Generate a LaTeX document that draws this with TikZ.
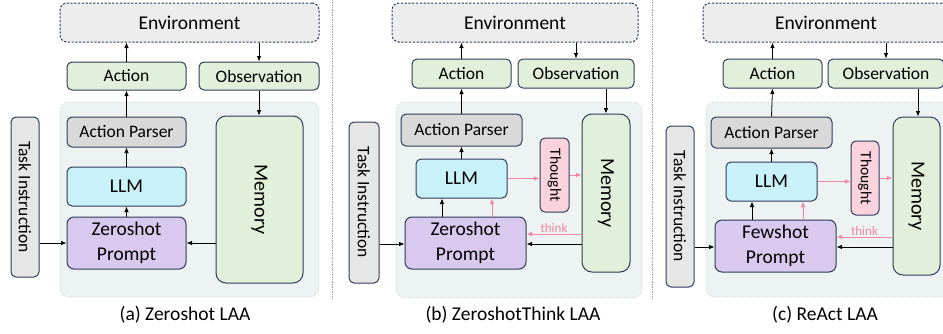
\documentclass[tikz,border=0pt]{standalone}
\usepackage{fontspec}
\setmainfont{Carlito}
\usetikzlibrary{arrows.meta}
\definecolor{navy}{HTML}{2E3D5A}
\definecolor{envfill}{HTML}{EDEDED}
\definecolor{grn}{HTML}{E2EFDA}
\definecolor{cyn}{HTML}{C9F1F9}
\definecolor{apg}{HTML}{D9D9D9}
\definecolor{prp}{HTML}{D9C9EE}
\definecolor{pnk}{HTML}{FAD3DC}
\definecolor{tskg}{HTML}{E6E6E6}
\definecolor{bgf}{HTML}{EDF2F2}
\definecolor{bgd}{HTML}{C4C8C8}
\definecolor{parr}{HTML}{F3879F}
\definecolor{sep}{HTML}{A0A0A0}
\tikzset{
  box/.style={draw=navy, line width=1pt, rounded corners=5pt, inner sep=0pt, align=center, text=black},
  envbox/.style={box, fill=envfill, dash pattern=on 2.2pt off 1.6pt, rounded corners=7pt, font=\fontsize{19.5}{20}\selectfont},
  grnbox/.style={box, fill=grn, font=\fontsize{17.5}{20}\selectfont},
  membox/.style={box, fill=grn, rotate=-90, rounded corners=10pt, font=\fontsize{20}{20}\selectfont},
  apbox/.style={box, fill=apg, font=\fontsize{17.5}{20}\selectfont},
  llmbox/.style={box, fill=cyn, font=\fontsize{19.5}{20}\selectfont},
  prbox/.style={box, fill=prp, rounded corners=7pt, font=\fontsize{19.5}{25}\selectfont},
  thbox/.style={box, fill=pnk, rotate=-90, font=\fontsize{15.5}{16}\selectfont},
  tskbox/.style={box, fill=tskg, rotate=-90, font=\fontsize{17.5}{20}\selectfont},
  bgbox/.style={draw=bgd, fill=bgf, densely dotted, line width=0.6pt, rounded corners=9pt},
  arr/.style={-{Latex[length=5.5pt,width=4.5pt]}, line width=0.8pt, black},
  parrow/.style={-{Latex[length=5.5pt,width=4.5pt]}, line width=0.8pt, parr},
  captext/.style={font=\fontsize{19.5}{20}\selectfont, inner sep=0pt},
  thinklbl/.style={font=\fontsize{13}{14}\selectfont, text=parr, inner sep=1.5pt},
  sepline/.style={draw=sep, densely dotted, line width=0.7pt}
}
\begin{document}
\begin{tikzpicture}[x=1pt, y=-1pt]
\useasboundingbox (0,0) rectangle (943,333);
% separators
\draw[sepline] (332,0) -- (332,298);
\draw[sepline] (652,0) -- (652,298);
% ---------- panel a ----------
\draw[bgbox] (60,102) rectangle (319,297);
\node[envbox, minimum width=259pt, minimum height=39pt] (envA) at (189.5,22.5) {Environment};
\node[grnbox, minimum width=119pt, minimum height=28pt] (actA) at (126.5,76) {Action};
\node[grnbox, minimum width=120pt, minimum height=28pt] (obsA) at (259,76) {Observation};
\node[apbox, minimum width=119pt, minimum height=30pt] (apA) at (126.5,132) {Action Parser};
\node[llmbox, minimum width=119pt, minimum height=39pt] (llmA) at (126.5,186.5) {LLM};
\node[prbox, minimum width=119pt, minimum height=52pt] (prA) at (126.5,243) {Zeroshot\\Prompt};
\node[membox, minimum width=167pt, minimum height=87pt] (memA) at (259.5,199.5) {Memory};
\node[tskbox, minimum width=160pt, minimum height=28pt] (taskA) at (25,197) {Task Instruction};
\node[captext] (capA) at (185,315) {(a) Zeroshot LAA};
\draw[arr] (actA.north) -- (actA.north |- envA.south);
\draw[arr] (envA.south -| obsA.north) -- (obsA.north);
\draw[arr] (obsA.south) -- (obsA.south |- memA.west);
\draw[arr] (apA.north) -- (actA.south);
\draw[arr] (llmA.north) -- (apA.south);
\draw[arr] (prA.north) -- (llmA.south);
\draw[arr] (taskA.north |- prA.west) -- (prA.west);
\draw[arr] (memA.south |- prA.east) -- (prA.east);
% ---------- panel b ----------
\draw[bgbox] (396,102) rectangle (642,298);
\node[envbox, minimum width=246pt, minimum height=39pt] (envB) at (515,22.5) {Environment};
\node[grnbox, minimum width=99pt, minimum height=29pt] (actB) at (461.5,73.5) {Action};
\node[grnbox, minimum width=116pt, minimum height=29pt] (obsB) at (576,73.5) {Observation};
\node[apbox, minimum width=121pt, minimum height=32pt] (apB) at (461.5,130) {Action Parser};
\node[llmbox, minimum width=91pt, minimum height=39pt] (llmB) at (461.5,178.5) {LLM};
\node[prbox, minimum width=121pt, minimum height=52pt] (prB) at (465.5,243) {Zeroshot\\Prompt};
\node[thbox, minimum width=74pt, minimum height=29pt] (thB) at (554.5,175) {Thought};
\node[membox, minimum width=158pt, minimum height=48pt] (memB) at (606,193) {Memory};
\node[tskbox, minimum width=161pt, minimum height=30pt] (taskB) at (364,202.5) {Task Instruction};
\node[captext] (capB) at (513,315) {(b) ZeroshotThink LAA};
\draw[arr] (actB.north) -- (actB.north |- envB.south);
\draw[arr] (envB.south -| obsB.north) -- (obsB.north);
\draw[arr] (memB.west |- obsB.south) -- (memB.west);
\draw[arr] (apB.north) -- (actB.south);
\draw[arr] (llmB.north) -- (apB.south);
\coordinate (pbk) at ([xshift=-23.5pt]prB.north);
\coordinate (pbp) at ([xshift=26.5pt]prB.north);
\draw[arr] (pbk) -- (pbk |- llmB.south);
\draw[parrow] (pbp) -- (pbp |- llmB.south);
\draw[parrow] (llmB.east) -- (llmB.east -| thB.south);
\draw[parrow] (thB.north) -- (thB.north -| memB.south);
\coordinate (tkB) at ([yshift=9pt]prB.east);
\coordinate (blB) at ([yshift=-1pt]prB.east);
\draw[parrow] (memB.south |- tkB) -- node[thinklbl, above] (thinkB) {think} (tkB);
\draw[arr] (memB.south |- blB) -- (blB);
\draw[arr] (taskB.north |- blB) -- (blB -| prB.west);
% ---------- panel c ----------
\draw[bgbox] (706,102) rectangle (952,297);
\node[envbox, minimum width=246pt, minimum height=39pt] (envC) at (826,22.5) {Environment};
\node[grnbox, minimum width=99pt, minimum height=29pt] (actC) at (772.5,73.5) {Action};
\node[grnbox, minimum width=116pt, minimum height=29pt] (obsC) at (886,73.5) {Observation};
\node[apbox, minimum width=121pt, minimum height=31pt] (apC) at (771.5,132.5) {Action Parser};
\node[llmbox, minimum width=91pt, minimum height=39pt] (llmC) at (771.5,181.5) {LLM};
\node[prbox, minimum width=121pt, minimum height=52pt] (prC) at (775.5,246) {Fewshot\\Prompt};
\node[thbox, minimum width=74pt, minimum height=28pt] (thC) at (865,178) {Thought};
\node[membox, minimum width=158pt, minimum height=47pt] (memC) at (916.5,196) {Memory};
\node[tskbox, minimum width=161pt, minimum height=28pt] (taskC) at (680,206.5) {Task Instruction};
\node[captext] (capC) at (825,315) {(c) ReAct LAA};
\draw[arr] (actC.north) -- (actC.north |- envC.south);
\draw[arr] (envC.south -| obsC.north) -- (obsC.north);
\coordinate (omC) at (918,0);
\draw[arr] (omC |- obsC.south) -- (omC |- memC.west);
\draw[arr] (apC.north) -- (actC.south);
\draw[arr] (llmC.north) -- (apC.south);
\coordinate (pck) at ([xshift=-23.5pt]prC.north);
\coordinate (pcp) at ([xshift=27.5pt]prC.north);
\draw[arr] (pck) -- (pck |- llmC.south);
\draw[parrow] (pcp) -- (pcp |- llmC.south);
\draw[parrow] (llmC.east) -- (llmC.east -| thC.south);
\draw[parrow] (thC.north) -- (thC.north -| memC.south);
\coordinate (tkC) at ([yshift=9pt]prC.east);
\coordinate (blC) at ([yshift=-1pt]prC.east);
\draw[parrow] (memC.south |- tkC) -- node[thinklbl, above] (thinkC) {think} (tkC);
\draw[arr] (memC.south |- blC) -- (blC);
\draw[arr] (taskC.north |- blC) -- (blC -| prC.west);
\end{tikzpicture}
\end{document}
